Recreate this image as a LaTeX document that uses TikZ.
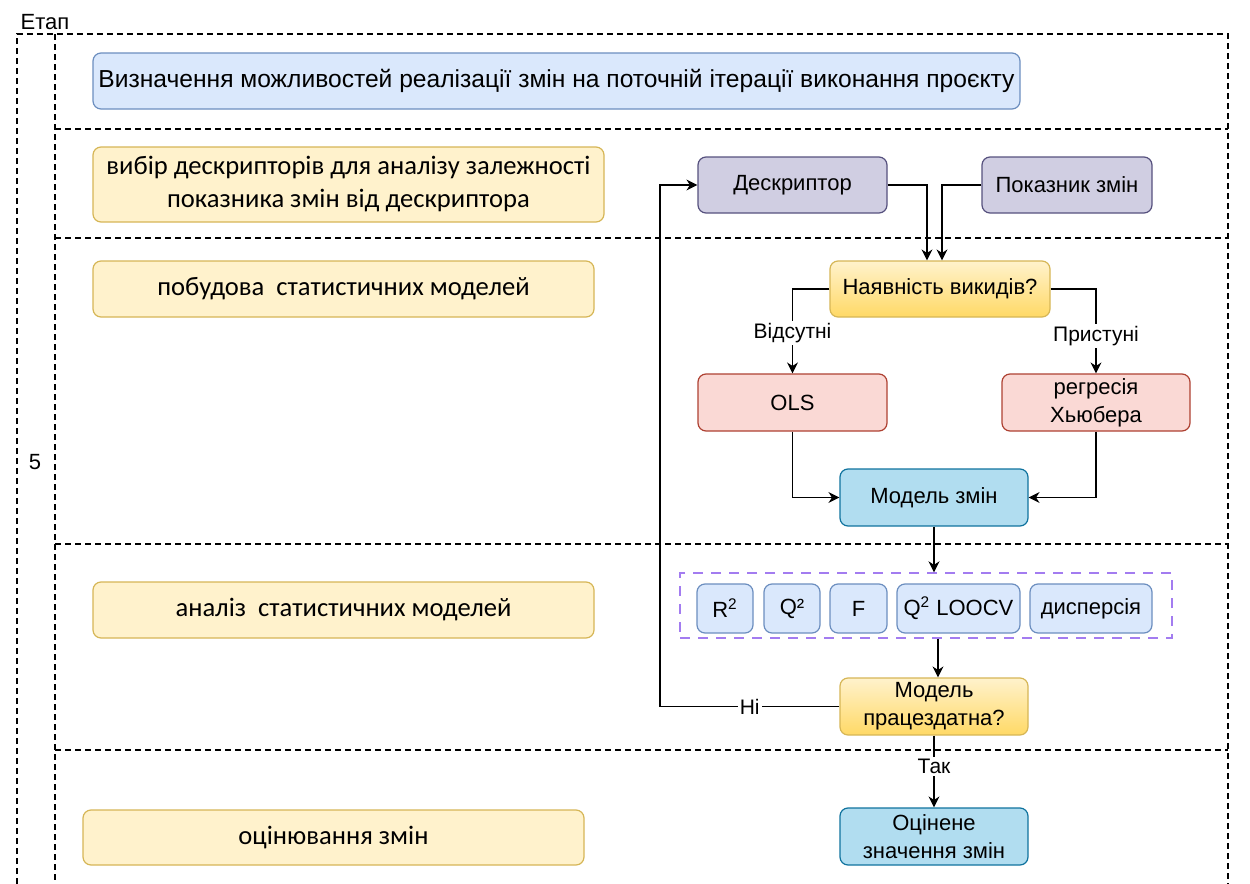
\documentclass[tikz,border=0pt]{standalone}
\usepackage{fontspec}
\setmainfont{Liberation Sans}
\newfontfamily\calibri{Carlito}
\usepackage{xcolor}
\usepackage{tikz}
\usetikzlibrary{positioning}
\usetikzlibrary{arrows.meta}
\definecolor{bluefill}{HTML}{DAE8FC}
\definecolor{bluedraw}{HTML}{6C8EBF}
\definecolor{yelfill}{HTML}{FFF2CC}
\definecolor{yeldark}{HTML}{FFD966}
\definecolor{yeldraw}{HTML}{D6B656}
\definecolor{purfill}{HTML}{D0CEE2}
\definecolor{purdraw}{HTML}{56517E}
\definecolor{redfill}{HTML}{FAD9D5}
\definecolor{reddraw}{HTML}{AE4132}
\definecolor{cyanfill}{HTML}{B1DDF0}
\definecolor{cyandraw}{HTML}{10739E}
\definecolor{groupdraw}{HTML}{A37CF0}
\def\px{0.5pt}
\tikzstyle{box}=[rectangle,rounded corners=4pt,line width=0.6pt,align=center,inner sep=0pt,font=\fontsize{11}{14}\selectfont]
\tikzstyle{stage}=[box,draw=yeldraw,fill=yelfill,font=\calibri\fontsize{13.3}{16.5}\selectfont]
\tikzstyle{metric}=[box,draw=bluedraw,fill=bluefill,minimum height=49*\px]
\tikzstyle{question}=[box,draw=yeldraw,top color=yelfill,bottom color=yeldark]
\tikzstyle{edge}=[draw,line width=0.65pt,-{Stealth[length=5.5pt,width=5.5pt]}]
\tikzstyle{lane}=[draw,line width=0.7pt,dash pattern=on 3pt off 2pt]
\tikzstyle{lbl}=[fill=white,inner sep=1pt,font=\fontsize{10.5}{12}\selectfont]
\tikzset{wh/.style 2 args={minimum width=#1*\px,minimum height=#2*\px}}

\begin{document}
\begin{tikzpicture}[x=0.5pt,y=-0.5pt]
 \useasboundingbox (0,0) rectangle (1250,884);

 %lanes
 \draw[lane] (17,884) -- (17,34) -- (1228,34) -- (1228,884);
 \draw[lane] (55,34) -- (55,884);
 \foreach \y in {129,238,544,750}
    \draw[lane] (55,\y) -- (1228,\y);
 \node[font=\fontsize{11}{13}\selectfont] (etap) at (45,22) {Етап};
 \node[font=\fontsize{11}{14}\selectfont] (num) at (35,462) {5};

 %stages
 \node[box,draw=bluedraw,fill=bluefill,wh={927}{56},font=\fontsize{12.3}{15}\selectfont] (goal) at (556.5,81) {Визначення можливостей реалізації змін на поточній ітерації виконання проєкту};
 \foreach \x/\y/\w/\h/\name/\label in {348.5/184.5/511/75/vybir/{вибір дескрипторів для аналізу залежності\\показника змін від дескриптора},
     343.5/289/501/56/pobud/{побудова\ \ статистичних моделей},
     343.5/610/501/56/analiz/{аналіз\ \ статистичних моделей},
     333.5/837.5/501/55/otsin/{оцінювання змін}}
    \node[stage,wh={\w}{\h}] (\name) at (\x,\y) {\label};

 %flow
 \node[box,draw=purdraw,fill=purfill,wh={189}{56}] (deskr) at (792.5,185) {Дескриптор};
 \node[box,draw=purdraw,fill=purfill,wh={170}{56}] (pokaz) at (1067,185) {Показник змін};
 \node[question,wh={220}{56}] (vykydy) at (940,289) {Наявність викидів?};
 \node[box,draw=reddraw,fill=redfill,wh={189}{57}] (ols) at (792.5,402.5) {OLS};
 \node[box,draw=reddraw,fill=redfill,wh={188}{57}] (huber) at (1096,402.5) {регресія\\Хьюбера};
 \node[box,draw=cyandraw,fill=cyanfill,wh={188}{57}] (model) at (934,497.5) {Модель змін};

 %metrics
 \node[draw=groupdraw,line width=0.7pt,dash pattern=on 5pt off 4pt,wh={492}{65}] (metrics) at (926,605.5) {};
 \foreach \x/\w/\name/\label in {725/56/rsq/{R\textsuperscript{2}}, 792/56/qsq/{Q²}, 858.5/57/fst/{F},
     958.5/123/loocv/{Q\textsuperscript{2} LOOCV}, 1091/122/disp/{дисперсія}}
    \node[metric,minimum width=\w*\px] (\name) at (\x,608.5) {\label};

 \node[question,wh={188}{57}] (works) at (934,706.5) {Модель\\працездатна?};
 \node[box,draw=cyandraw,fill=cyanfill,wh={188}{57}] (result) at (934,836.5) {Оцінене\\значення змін};
 \coordinate (back) at (660,706.5);

 \path[edge] (deskr.east) -| ([xshift=-13*\px]vykydy.north);
 \path[edge] (pokaz.west) -| ([xshift=2*\px]vykydy.north);
 \path[edge] (vykydy.west) -| node[lbl,pos=0.76] {Відсутні} (ols.north);
 \path[edge] (vykydy.east) -| node[lbl,pos=0.78] {Пристуні} (huber.north);
 \path[edge] (ols.south) |- (model.west);
 \path[edge] (huber.south) |- (model.east);
 \path[edge] (model.south) -- (model.south |- metrics.north);
 \path[edge] ([xshift=4*\px]works.north |- metrics.south) -- ([xshift=4*\px]works.north);
 \path[edge] (works.west) -- node[lbl] {Ні} (back) |- (deskr.west);
 \path[edge] (works.south) -- node[lbl,pos=0.43] {Так} (result.north);

\end{tikzpicture}
\end{document}
